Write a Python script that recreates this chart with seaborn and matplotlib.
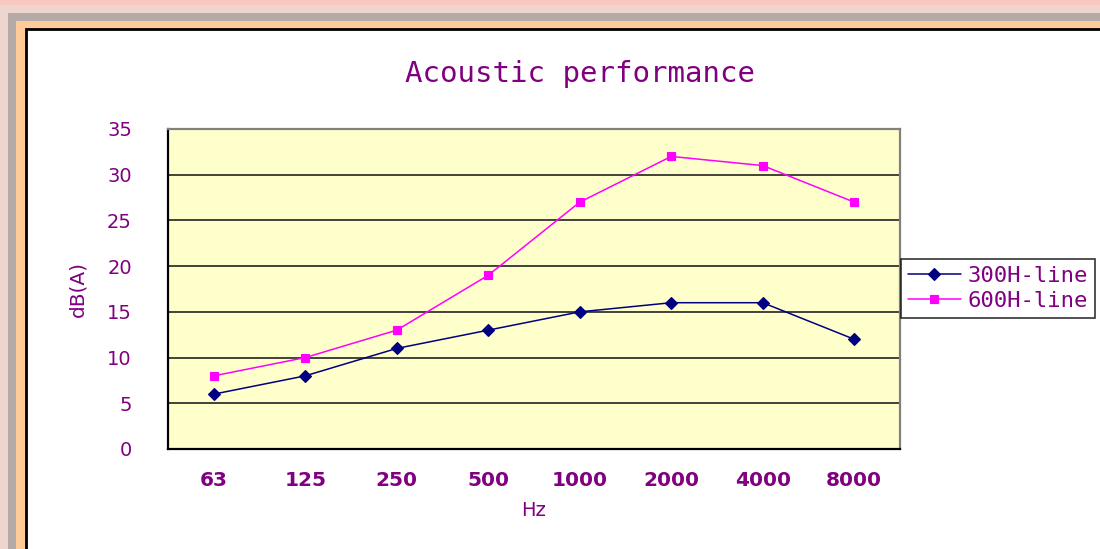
import numpy as np
import pandas as pd
import matplotlib
matplotlib.use("Agg")
import matplotlib.pyplot as plt
from matplotlib.patches import Rectangle
from matplotlib.ticker import FixedLocator
import seaborn as sns

# data
freqs = ["63", "125", "250", "500", "1000", "2000", "4000", "8000"]
line_300h = [6, 8, 11, 13, 15, 16, 16, 12]
line_600h = [8, 10, 13, 19, 27, 32, 31, 27]
series_names = ["300H-line", "600H-line"]
y_ticks = [0, 5, 10, 15, 20, 25, 30, 35]

df = pd.DataFrame({
    "Hz": freqs * 2,
    "dB": line_300h + line_600h,
    "series": [series_names[0]] * len(freqs) + [series_names[1]] * len(freqs),
})

sns.set_theme(style="white")
plt.rcParams["font.family"] = ["DejaVu Sans"]

PURPLE = "#800080"
W, H = 1100, 549

fig = plt.figure(figsize=(11, 5.49), dpi=100, facecolor="#EED6CF")


def rect(x, y, w, h, **kw):
    # pixel box (top-left origin) -> figure coords
    return Rectangle((x / W, 1 - (y + h) / H), w / W, h / H,
                     transform=fig.transFigure, figure=fig, zorder=-10, **kw)


fig.patches.extend([
    rect(0, 0, W, 5, facecolor="#F8C8C0", edgecolor="none"),
    rect(8, 13, W, H, facecolor="#B4ABA8", edgecolor="none"),
    rect(16, 21, W, H, facecolor="#FFCC99", edgecolor="none"),
    rect(26, 29, W + 10, H, facecolor="white", edgecolor="black", linewidth=2),
])

ax = fig.add_axes([168 / W, 1 - 449 / H, (900 - 168) / W, 320 / H])
ax.set_facecolor("#FFFFCC")

sns.pointplot(data=df, x="Hz", y="dB", hue="series", order=freqs,
              palette=["#000080", "#FF00FF"], markers=["D", "s"],
              linestyles=["-", "-"], errorbar=None, ax=ax,
              linewidth=1.1, markersize=6)

ax.set_xlim(-0.5, len(freqs) - 0.5)
ax.set_ylim(0, 35)
ax.set_yticks(y_ticks)
ax.yaxis.grid(True, color="#222222", linewidth=1.2)
ax.set_axisbelow(True)

# category boundaries get the tick marks, labels stay centred
ax.xaxis.set_minor_locator(FixedLocator(np.arange(-0.5, len(freqs), 1.0)))
ax.tick_params(axis="x", which="major", length=0, pad=16)
ax.tick_params(axis="x", which="minor", direction="in", length=6, width=1.2, color="black")
ax.tick_params(axis="y", direction="in", length=4, width=1.2, color="black", pad=26)
ax.set_xticks(range(len(freqs)))
ax.set_xticklabels(freqs, fontsize=14.5, fontweight="bold", color=PURPLE)
for lab in ax.get_yticklabels():
    lab.set_color(PURPLE)
    lab.set_fontsize(14)

for side in ["left", "bottom"]:
    ax.spines[side].set_color("black")
    ax.spines[side].set_linewidth(1.6)
for side in ["top", "right"]:
    ax.spines[side].set_color("#808080")
    ax.spines[side].set_linewidth(1.6)

ax.set_xlabel("Hz", color=PURPLE, fontsize=14, labelpad=8)
ax.set_ylabel("dB(A)", color=PURPLE, fontsize=14.5)
ax.yaxis.set_label_coords(-0.11, 0.5)

fig.text(580 / W, 1 - 74 / H, "Acoustic performance", color=PURPLE,
         fontsize=21, family="DejaVu Sans Mono", ha="center", va="center")

handles, labels = ax.get_legend_handles_labels()
ax.get_legend().remove()
leg = fig.legend(handles, labels, loc="upper left",
                 bbox_to_anchor=(901 / W, 1 - 259 / H), frameon=True,
                 fontsize=16, handlelength=2.4, handletextpad=0.3,
                 borderpad=0.3, labelspacing=0.25, borderaxespad=0)
leg.get_frame().set_edgecolor("black")
leg.get_frame().set_linewidth(1.2)
leg.get_frame().set_boxstyle("square", pad=0)
for t in leg.get_texts():
    t.set_color(PURPLE)
    t.set_family("DejaVu Sans Mono")

fig.savefig("out.png", dpi=100, facecolor=fig.get_facecolor())
